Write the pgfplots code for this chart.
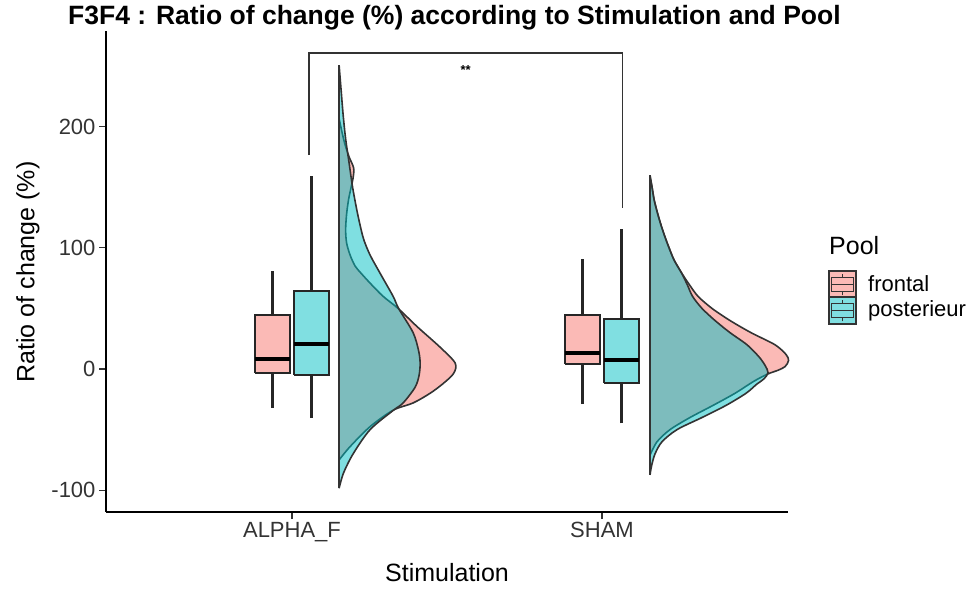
\documentclass[border=0pt]{standalone}
\usepackage{pgfplots}
\pgfplotsset{compat=1.18}
\usepackage{fontspec}
\setmainfont{Liberation Sans}
\definecolor{fr}{HTML}{F8766D}
\definecolor{po}{HTML}{00BFC4}
\definecolor{ol}{HTML}{333333}
\definecolor{tk}{HTML}{333333}
\begin{document}
\begin{tikzpicture}
\useasboundingbox (0pt,0pt) rectangle (977pt,589pt);
\begin{axis}[
  at={(106pt,77pt)}, anchor=south west,
  scale only axis, width=682pt, height=481pt,
  xmin=0.4, xmax=2.6, ymin=-118, ymax=279,
  axis x line*=bottom, axis y line*=left,
  axis line style={line width=1.4pt, draw=black},
  xtick={1,2}, xticklabels={ALPHA\_F, SHAM},
  ytick={-100,0,100,200},
  tick align=outside, major tick length=7pt,
  tick style={line width=1.2pt, draw=tk},
  ticklabel style={font=\fontsize{22}{22}\selectfont, text=tk},
  /pgf/number format/assume math mode=true,
  clip=false,
]
% ---- half violins ALPHA_F ----
\addplot[fill=fr, fill opacity=0.5, draw=ol, line width=1.6pt, smooth, tension=0.5] coordinates {
(1.152,206.7) (1.1617,195) (1.1714,185) (1.1843,175) (1.1988,166) (1.1972,158) (1.1907,150) (1.1826,140) (1.1762,128) (1.1730,115) (1.1762,104) (1.1875,94) (1.2036,85) (1.2230,79) (1.2552,70) (1.2939,60) (1.3423,50) (1.4036,35) (1.4778,18) (1.5262,5) (1.5214,-3.6) (1.4875,-12) (1.4455,-20) (1.3907,-28) (1.3262,-34) (1.2520,-47.5) (1.1875,-64) (1.152,-75)};
\addplot[fill=po, fill opacity=0.5, draw=ol, line width=1.6pt, smooth, tension=0.5] coordinates {
(1.152,250.6) (1.1585,230) (1.1649,210) (1.1730,190) (1.1843,170) (1.1955,150) (1.2101,130) (1.2230,115) (1.2326,106) (1.2520,94) (1.2843,79) (1.3262,60) (1.3439,50) (1.3907,30) (1.4085,15) (1.4133,5) (1.4101,-5) (1.3972,-15) (1.3585,-28) (1.3272,-34) (1.2520,-50) (1.1972,-70) (1.1659,-86) (1.152,-98.4)};
\addplot[draw=ol, line width=1.6pt] coordinates {(1.152,-98.4) (1.152,250.6)};
% ---- half violins SHAM ----
\addplot[fill=fr, fill opacity=0.5, draw=ol, line width=1.6pt, smooth, tension=0.5] coordinates {
(2.155,160) (2.1615,150) (2.1679,140) (2.1776,130) (2.1889,120) (2.2018,110) (2.2163,100) (2.2324,90) (2.2550,80) (2.2808,70) (2.3098,60) (2.3550,50) (2.4131,40) (2.4808,30) (2.5582,20) (2.5937,12) (2.6018,7) (2.5905,2) (2.5679,-1) (2.5356,-4) (2.4905,-10) (2.4292,-20) (2.3582,-30) (2.2840,-40) (2.2195,-50) (2.1776,-60) (2.155,-71)};
\addplot[fill=po, fill opacity=0.5, draw=ol, line width=1.6pt, smooth, tension=0.5] coordinates {
(2.155,158) (2.1615,150) (2.1679,140) (2.1776,130) (2.1889,120) (2.2018,110) (2.2163,100) (2.2324,90) (2.2550,80) (2.2744,70) (2.2921,60) (2.3227,50) (2.3647,40) (2.4131,30) (2.4679,20) (2.5066,10) (2.5260,3) (2.5356,-3) (2.5227,-8) (2.4969,-13) (2.4647,-20) (2.4002,-30) (2.3227,-40) (2.2421,-50) (2.1937,-60) (2.1711,-70) (2.1598,-80) (2.155,-87.4)};
\addplot[draw=ol, line width=1.6pt] coordinates {(2.155,-87.4) (2.155,160)};
% ---- boxplots: whiskers ----
\addplot[draw=black!85, line width=2.2pt] coordinates {(0.937,-32) (0.937,-3.5)};
\addplot[draw=black!85, line width=2.2pt] coordinates {(0.937,45) (0.937,80.8)};
\addplot[draw=black!85, line width=2.2pt] coordinates {(1.063,-40.6) (1.063,-5)};
\addplot[draw=black!85, line width=2.2pt] coordinates {(1.063,64.5) (1.063,159)};
\addplot[draw=black!85, line width=2.2pt] coordinates {(1.937,-28.9) (1.937,4.1)};
\addplot[draw=black!85, line width=2.2pt] coordinates {(1.937,44.5) (1.937,90.7)};
\addplot[draw=black!85, line width=2.2pt] coordinates {(2.063,-44.8) (2.063,-11.3)};
\addplot[draw=black!85, line width=2.2pt] coordinates {(2.063,41.2) (2.063,115.4)};
% ---- boxplots: boxes ----
\addplot[fill=fr!50, draw=black!85, line width=2pt, line join=miter] coordinates {(0.8805,-3.5) (0.9935,-3.5) (0.9935,45) (0.8805,45) (0.8805,-3.5)};
\addplot[fill=po!50, draw=black!85, line width=2pt, line join=miter] coordinates {(1.0065,-5) (1.1195,-5) (1.1195,64.5) (1.0065,64.5) (1.0065,-5)};
\addplot[fill=fr!50, draw=black!85, line width=2pt, line join=miter] coordinates {(1.8805,4.1) (1.9935,4.1) (1.9935,44.5) (1.8805,44.5) (1.8805,4.1)};
\addplot[fill=po!50, draw=black!85, line width=2pt, line join=miter] coordinates {(2.0065,-11.3) (2.1195,-11.3) (2.1195,41.2) (2.0065,41.2) (2.0065,-11.3)};
% ---- medians ----
\addplot[draw=black, line width=4pt] coordinates {(0.8805,8) (0.9935,8)};
\addplot[draw=black, line width=4pt] coordinates {(1.0065,21) (1.1195,21)};
\addplot[draw=black, line width=4pt] coordinates {(1.8805,12.9) (1.9935,12.9)};
\addplot[draw=black, line width=4pt] coordinates {(2.0065,7.4) (2.1195,7.4)};
% ---- significance bracket ----
\addplot[draw=ol, line width=1.2pt] coordinates {(1.055,176.6) (1.055,260.8) (2.066,260.8) (2.066,132.7)};
\node[font=\fontsize{13}{13}\selectfont\bfseries] at (axis cs:1.56,246.5) {**};
\end{axis}
\begin{scope}[x=1pt,y=1pt]
% ---- titles ----
\node[anchor=west, font=\bfseries\fontsize{26.5}{26.5}\selectfont, inner sep=0pt] at (68,571) {F3F4 : Ratio of change (\%) according to Stimulation and Pool};
\node[font=\fontsize{25}{25}\selectfont, inner sep=0pt] at (447,16) {Stimulation};
\node[font=\fontsize{25}{25}\selectfont, inner sep=0pt, rotate=90] at (28,317) {Ratio of change (\%)};
% ---- legend ----
\node[anchor=west, font=\fontsize{25}{25}\selectfont, inner sep=0pt] at (829,343) {Pool};
\foreach \yy/\cc in {291/fr, 265/po}{
  \fill[\cc!50] (829,\yy) rectangle (856,\yy+27);
  \draw[ol, line width=1.2pt] (829,\yy) rectangle (856,\yy+27);
  \draw[ol, line width=1.2pt] (831.7,\yy+6.75) rectangle (853.3,\yy+20.25);
  \draw[ol, line width=1.2pt] (831.7,\yy+13.5) -- (853.3,\yy+13.5);
  \draw[ol, line width=1.2pt] (842.5,\yy+2.7) -- (842.5,\yy+6.75);
  \draw[ol, line width=1.2pt] (842.5,\yy+20.25) -- (842.5,\yy+24.3);
}
\node[anchor=west, font=\fontsize{22}{22}\selectfont, inner sep=0pt] at (868,305) {frontal};
\node[anchor=west, font=\fontsize{22}{22}\selectfont, inner sep=0pt] at (868,278) {posterieur};
\end{scope}
\end{tikzpicture}
\end{document}
